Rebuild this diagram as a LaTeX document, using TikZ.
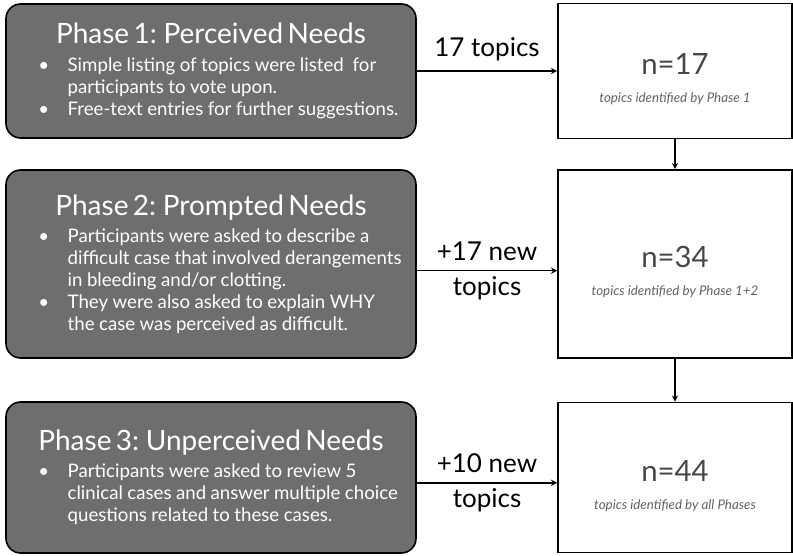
\documentclass[tikz,border=0pt]{standalone}
\usepackage{fontspec}
\setmainfont{Lato}
\usetikzlibrary{shapes.geometric, arrows}
\definecolor{phasegray}{HTML}{6E6E6E}
\definecolor{ngray}{HTML}{474747}
\tikzstyle{phase} = [rectangle, rounded corners=11pt, minimum width=307.5pt, text width=291pt, inner xsep=8pt, align=left, draw=black, line width=1.2pt, fill=phasegray, text=white]
\tikzstyle{result} = [rectangle, minimum width=175.5pt, draw=black, line width=1.2pt, fill=white, text=ngray, align=center]
\tikzstyle{added} = [font=\fontsize{19.5}{26}\selectfont, align=center]
\tikzstyle{arrow} = [line width=1.1pt,->,>=stealth]
\newcommand{\phasetitle}[1]{{\centering\fontsize{21}{26}\selectfont #1\par}\vspace{4pt}}
\newcommand{\phaseitem}[1]{{\fontsize{14}{16.5}\selectfont\hangindent=38pt\hangafter=1\noindent\hspace*{16pt}\makebox[22pt][l]{\textbullet}#1\par}}
\newcommand{\topiccount}[2]{\begin{tabular}{@{}c@{}}\rule{0pt}{30pt}{\fontsize{22}{26}\selectfont #1}\\[9pt]{\fontsize{10}{12}\selectfont\itshape\color{ngray!85} #2}\end{tabular}}

\begin{document}
\begin{tikzpicture}[x=0.75pt, y=-0.75pt, node distance=348pt]
			\useasboundingbox (0,0) rectangle (793,556);
			\node[phase, minimum height=100.5pt] (1) at (211,71) {\phasetitle{Phase 1: Perceived Needs}
				\phaseitem{Simple listing of topics were listed\ \ for\newline participants to vote upon.}
				\phaseitem{Free-text entries for further suggestions.}};
			\node[phase, minimum height=141pt] (2) at (211,264) {\phasetitle{Phase 2: Prompted Needs}
				\phaseitem{Participants were asked to describe a\newline difficult case that involved derangements\newline in bleeding and/or clotting.}
				\phaseitem{They were also asked to explain WHY\newline the case was perceived as difficult.}};
			\node[phase, minimum height=113.25pt] (3) at (211,477.5) {\phasetitle{Phase 3: Unperceived Needs}
				\phaseitem{Participants were asked to review 5\newline clinical cases and answer multiple choice\newline questions related to these cases.}};
			\node[result, minimum height=101.25pt, right of=1] (4) {\topiccount{n=17}{topics identified by Phase 1}};
			\node[result, minimum height=141pt, right of=2] (5) {\topiccount{n=34}{topics identified by Phase 1+2}};
			\node[result, minimum height=112.5pt, right of=3] (6) {\topiccount{n=44}{topics identified by all Phases}};
			
			\draw [arrow] (1) -- (4) node[midway, above=4pt, added] {17 topics};
			\draw [arrow] ([yshift=-5pt]2.east) -- ([yshift=-5pt]5.west) node[midway, added] {+17 new\\topics};
			\draw [arrow] ([yshift=-4pt]3.east) -- ([yshift=-4pt]6.west) node[midway, added] {+10 new\\topics};
			\draw [arrow] (4) -- (5);
			\draw [arrow] (5) -- (6);
			
		\end{tikzpicture}
\end{document}
